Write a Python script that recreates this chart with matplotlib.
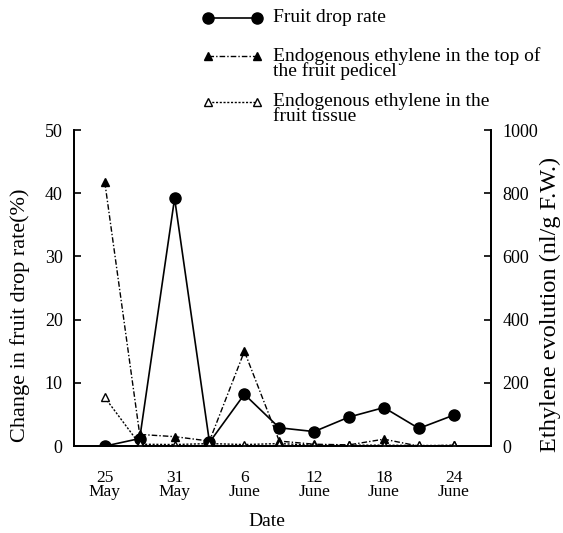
import matplotlib
matplotlib.use("Agg")
import matplotlib.pyplot as plt
from matplotlib.lines import Line2D

plt.rcParams["font.family"] = ["Liberation Serif", "DejaVu Serif"]

# Sampling dates, counted in days from 25 May
day_offsets = [0, 3, 6, 9, 12, 15, 18, 21, 24, 27, 30]
tick_days = [0, 6, 12, 18, 24, 30]
tick_labels = ["25\nMay", "31\nMay", "6\nJune", "12\nJune", "18\nJune", "24\nJune"]

# Fruit drop rate (%), left axis
drop_rate = [0.0, 1.2, 39.2, 0.6, 8.2, 2.9, 2.3, 4.6, 6.1, 2.8, 4.9]
# Ethylene evolution (nl/g F.W.), right axis
pedicel_ethylene = [835, 37, 30, 16, 300, 16, 6, 4, 22, 0, 3]
tissue_ethylene = [154, 6, 5, 8, 5, 8, 3, 3, 3, 2, 2]

series_labels = [
    "Fruit drop rate",
    "Endogenous ethylene in the top of\nthe fruit pedicel",
    "Endogenous ethylene in the\nfruit tissue",
]

# line styles shared by the plot and the key
styles = [
    dict(color="black", linewidth=1.2, linestyle="-", marker="o",
         markersize=8, markerfacecolor="black"),
    dict(color="black", linewidth=1.0, linestyle=(0, (4, 1.5, 1, 1.5)),
         marker="^", markersize=6, markerfacecolor="black"),
    dict(color="black", linewidth=1.0, linestyle=(0, (1.5, 1.2)),
         marker="^", markersize=6, markerfacecolor="white"),
]

fig = plt.figure(figsize=(5.63, 5.33), dpi=100)
ax = fig.add_axes([0.131, 0.163, 0.741, 0.593])
ax2 = ax.twinx()

ax.plot(day_offsets, drop_rate, zorder=3, **styles[0])
ax2.plot(day_offsets, pedicel_ethylene, zorder=2, **styles[1])
ax2.plot(day_offsets, tissue_ethylene, zorder=2, **styles[2])

# Axes limits and ticks
ax.set_xlim(-2.67, 33.2)
ax.set_ylim(0, 50)
ax2.set_ylim(0, 1000)
ax.set_xticks(tick_days)
ax.set_xticklabels(tick_labels, linespacing=0.86)
ax.set_yticks(range(0, 51, 10))
ax2.set_yticks(range(0, 1001, 200))
ax.tick_params(axis="x", length=0, pad=17, labelsize=12.5)
ax.tick_params(axis="y", direction="in", length=5, width=1.2,
               pad=8, labelsize=13)
ax2.tick_params(axis="y", direction="in", length=5, width=1.2,
                pad=8.5, labelsize=13)

for a in (ax, ax2):
    a.spines["top"].set_visible(False)
    for s in ("left", "right", "bottom"):
        a.spines[s].set_linewidth(1.3)

# Axis titles
fig.text(0.036, 0.409, "Change in fruit drop rate(%)", rotation=90,
         ha="center", va="center", fontsize=16)
fig.text(0.474, 0.0225, "Date", ha="center", va="center", fontsize=14)
fig.text(0.997, 0.428, "Ethylene evolution (nl/g F.W.)", rotation=90,
         ha="right", va="center", fontsize=17.5)

# Key in the top-right corner, sample line level with the first text line
key_x0, key_x1, text_x = 208 / 563, 257 / 563, 273 / 563
key_rows = [18, 56, 102]
for style, label, row in zip(styles, series_labels, key_rows):
    y = 1 - row / 533
    fig.add_artist(Line2D([key_x0, key_x1], [y, y],
                          transform=fig.transFigure, **style))
    fig.text(text_x, 1 - (row - 9) / 533, label, ha="left", va="top",
             fontsize=14, linespacing=0.82, transform=fig.transFigure)

fig.savefig("out.png", dpi=100, facecolor="white")
